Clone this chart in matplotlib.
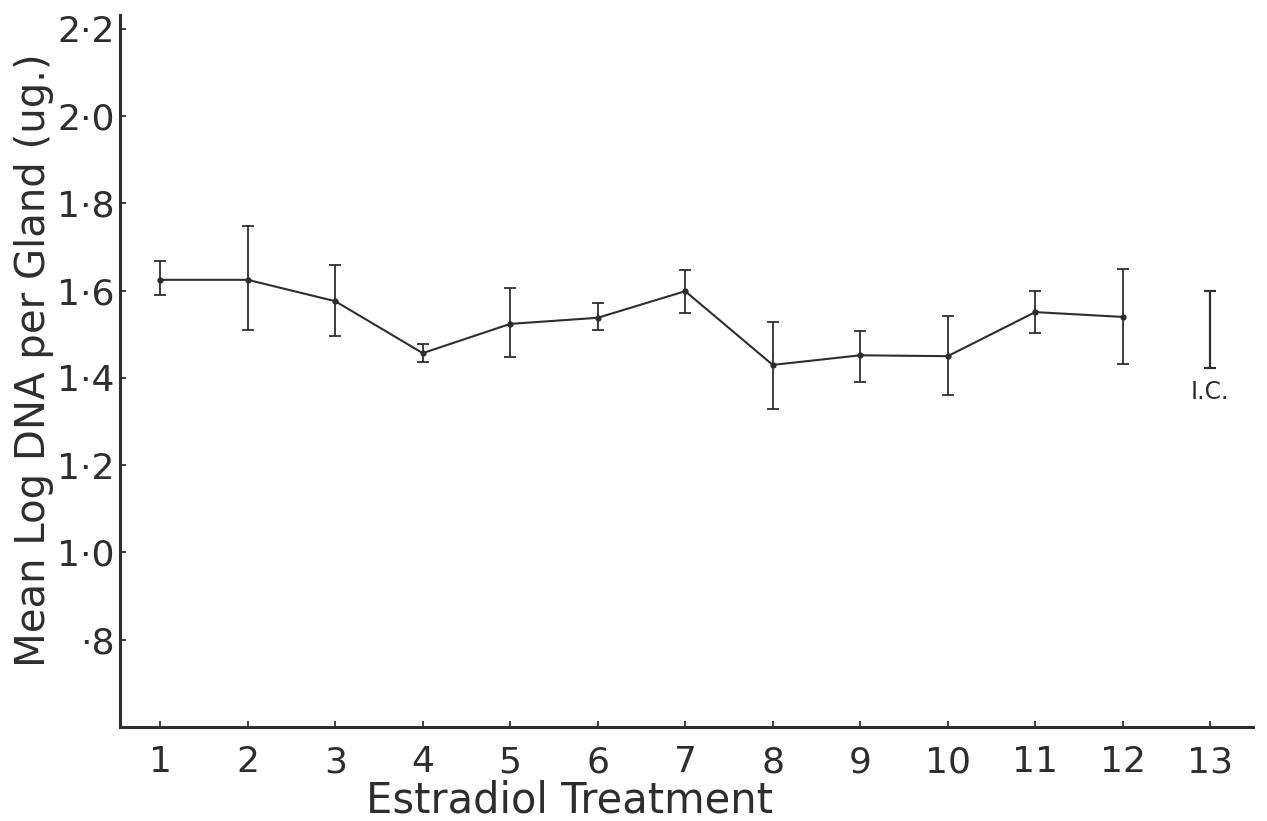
import numpy as np
import matplotlib.pyplot as plt

# Treatment number vs mean log DNA per gland, with error bar limits
treatment = np.array([1, 2, 3, 4, 5, 6, 7, 8, 9, 10, 11, 12])
mean_log_dna = np.array([1.625, 1.625, 1.576, 1.457, 1.524, 1.538, 1.599, 1.430, 1.452, 1.450, 1.551, 1.540])
err_upper = np.array([1.669, 1.749, 1.659, 1.478, 1.607, 1.571, 1.648, 1.529, 1.507, 1.542, 1.599, 1.650])
err_lower = np.array([1.590, 1.509, 1.497, 1.437, 1.449, 1.510, 1.549, 1.328, 1.391, 1.362, 1.504, 1.431])

# interval for comparison (I.C.) drawn at position 13
ic_pos = 13
ic_low, ic_high = 1.423, 1.600

y_ticks = [0.8, 1.0, 1.2, 1.4, 1.6, 1.8, 2.0, 2.2]
y_tick_labels = ['·8', '1·0', '1·2', '1·4', '1·6', '1·8', '2·0', '2·2']
x_ticks = list(range(1, 14))

fig = plt.figure(figsize=(12.67, 8.21), dpi=100)
ax = fig.add_axes([0.0947, 0.1145, 0.8943, 0.8672])

ink = '#2e2e2e'
yerr = np.vstack([mean_log_dna - err_lower, err_upper - mean_log_dna])
ax.errorbar(treatment, mean_log_dna, yerr=yerr, color=ink, lw=1.5,
            elinewidth=1.3, capsize=4, capthick=1.3, marker='o', ms=3.5)

ic_mid = (ic_low + ic_high) / 2
ax.errorbar([ic_pos], [ic_mid], yerr=[[ic_mid - ic_low], [ic_high - ic_mid]],
            color=ink, elinewidth=1.6, capsize=4, capthick=1.6, fmt='none')
ax.text(ic_pos, ic_low - 0.056, 'I.C.', ha='center', va='center', fontsize=17, color=ink)

ax.set_xlim(0.54, 13.49)
ax.set_ylim(0.6, 2.232)
ax.set_xticks(x_ticks)
ax.set_xticklabels([str(t) for t in x_ticks])
ax.set_yticks(y_ticks)
ax.set_yticklabels(y_tick_labels)

for side in ['top', 'right']:
    ax.spines[side].set_visible(False)
for side in ['left', 'bottom']:
    ax.spines[side].set_linewidth(2.2)
    ax.spines[side].set_color(ink)

ax.tick_params(axis='both', direction='in', length=4, width=1.3, color=ink,
               labelsize=26, labelcolor=ink)
ax.tick_params(axis='y', pad=4)
ax.tick_params(axis='x', pad=13)

ax.set_xlabel('Estradiol Treatment', fontsize=30, color=ink)
ax.xaxis.set_label_coords(0.397, -0.0744)
ax.set_ylabel('Mean Log DNA per Gland (ug.)', fontsize=29, color=ink)
ax.yaxis.set_label_coords(-0.058, 0.515)

fig.savefig('out.png', dpi=100)
